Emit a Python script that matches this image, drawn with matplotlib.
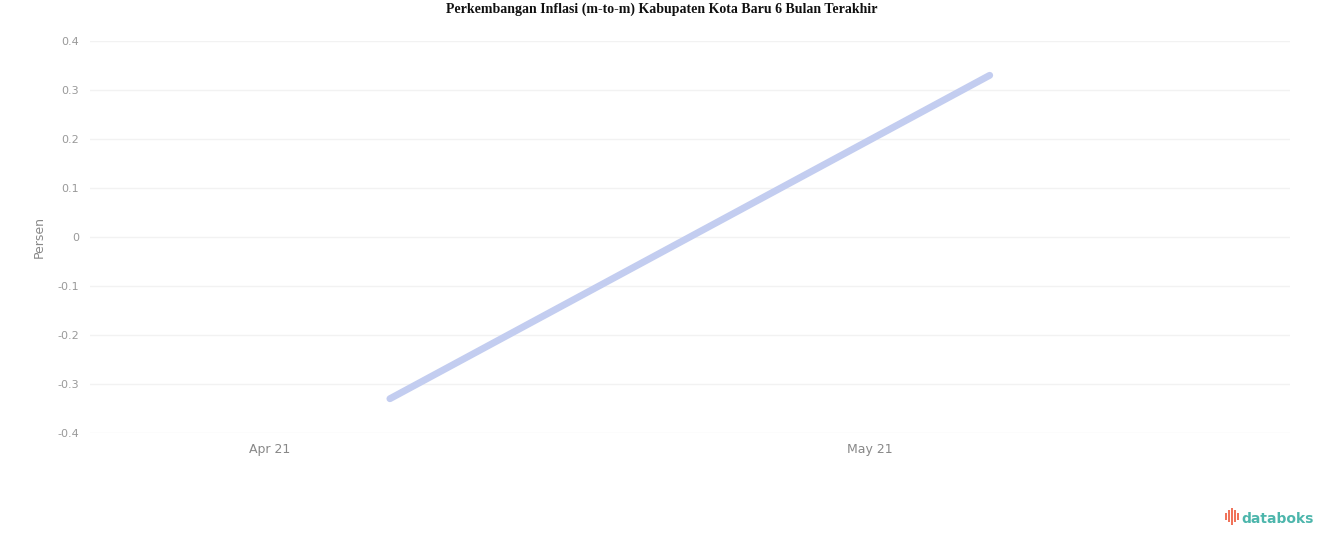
import numpy as np
import matplotlib.pyplot as plt
from matplotlib.patches import Rectangle

# data
months = ['Apr 21', 'May 21']
inflasi = [-0.33, 0.33]
yticks = [-0.4, -0.3, -0.2, -0.1, 0, 0.1, 0.2, 0.3, 0.4]
ytick_labels = ['-0.4', '-0.3', '-0.2', '-0.1', '0', '0.1', '0.2', '0.3', '0.4']

fig = plt.figure(figsize=(13.24, 5.47), dpi=100)
ax = fig.add_axes([0.068, 0.2084, 0.906, 0.7166])

x = np.arange(len(months))
ax.plot(x, inflasi, color='#c3cdf0', lw=5, solid_capstyle='round')

ax.set_xlim(-0.5, len(months) - 0.5)
ax.set_ylim(yticks[0], yticks[-1])
ax.set_yticks(yticks)
ax.set_yticklabels(ytick_labels, fontsize=8, color='#999999')
# labels in the reference sit left of the points
ax.set_xticks(x - 0.2)
ax.set_xticklabels(months, fontsize=9, color='#888888')

ax.tick_params(axis='y', length=0, pad=8)
ax.tick_params(axis='x', length=0, pad=7)
ax.yaxis.grid(True, color='#f2f2f2', lw=1)
ax.set_axisbelow(True)
for s in ax.spines.values():
    s.set_visible(False)

ax.set_ylabel('Persen', fontsize=9, color='#888888', labelpad=8)

fig.text(0.5, 0.983, 'Perkembangan Inflasi (m-to-m) Kabupaten Kota Baru 6 Bulan Terakhir',
         ha='center', va='center', fontsize=10, fontweight='bold',
         family='Liberation Serif', color='#111111')

# databoks logo
fig.text(0.9375, 0.052, 'databoks', ha='left', va='center', fontsize=10,
         color='#4db6ac', fontweight='bold')
bar_h = [0.012, 0.022, 0.030, 0.022, 0.012]
for i, h in enumerate(bar_h):
    fig.add_artist(Rectangle((0.9255 + i * 0.0022, 0.052 - h / 2 + 0.004), 0.0013, h,
                             transform=fig.transFigure, color='#f0735a', lw=0))

fig.savefig('out.png', dpi=100)
